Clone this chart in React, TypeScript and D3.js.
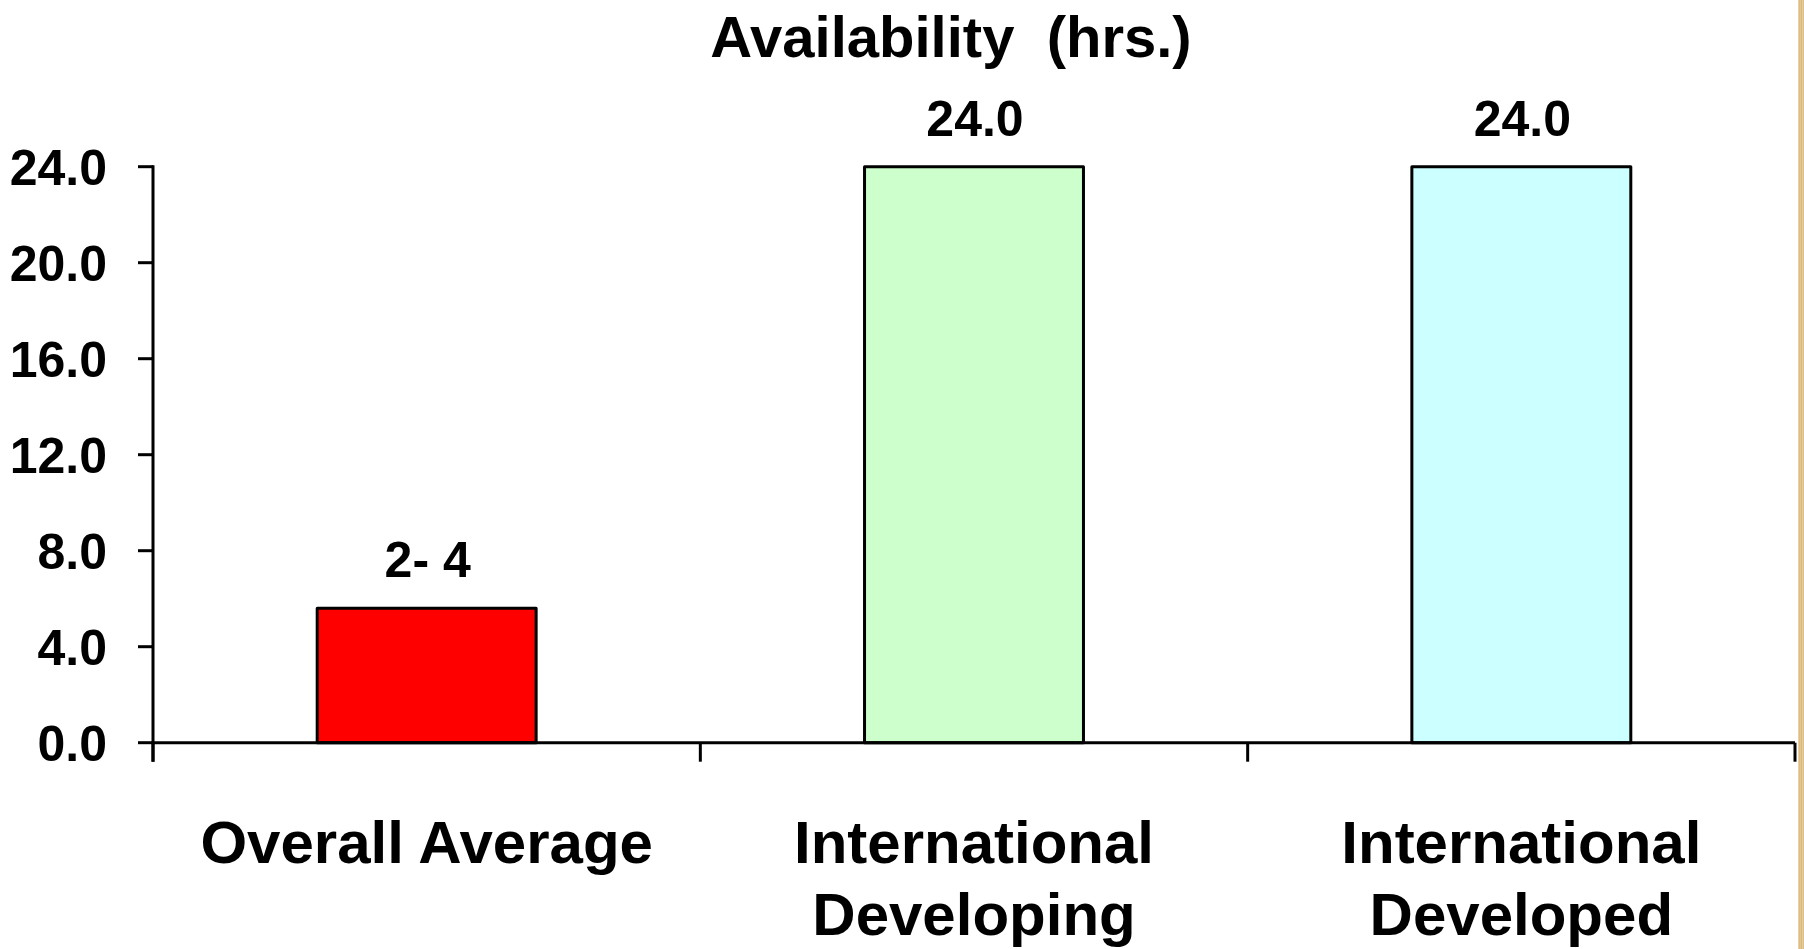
import React from "react";
import * as d3 from "d3";

// Chart data
const categories: string[][] = [
  ["Overall Average"],
  ["International", "Developing"],
  ["International", "Developed"],
];
const hours: number[] = [5.6, 24, 24];
const valueLabels: (string | null)[] = ["2- 4", null, null];
const barColors: string[] = ["#FF0000", "#CCFFCC", "#CCFFFF"];
const yTicks: number[] = [0, 4, 8, 12, 16, 20, 24];
const title = "Availability\u00a0\u00a0(hrs.)";

const W = 1804;
const H = 949;
const FONT = "'Liberation Sans', Arial, Helvetica, sans-serif";

export default function App() {
  const left = 153;
  const right = 1795;
  const top = 166.7;
  const bottom = 742.7;

  const keys = categories.map((c) => c.join(" "));
  const x = d3.scaleBand<string>().domain(keys).range([left, right]).padding(0);
  const y = d3.scaleLinear().domain([0, 24]).range([bottom, top]);
  const fmt = d3.format(".1f");
  const barW = x.bandwidth() * 0.4;
  const boundaries = [left, ...keys.map((k) => (x(k) as number) + x.bandwidth())];

  // textured edge strip on the right
  const stripX = 1798;
  const stripShades = ["#EBD3A2", "#D9BD86", "#E3C892", "#D4B67E", "#E6CD98", "#DCC08A"];

  return (
    <svg
      width={W}
      height={H}
      style={{ position: "fixed", left: 0, top: 0, display: "block", background: "#fff" }}
      fontFamily={FONT}
      fontWeight="bold"
    >
      <rect x={0} y={0} width={W} height={H} fill="#ffffff" />

      {/* title */}
      <text x={951} y={56.7} textAnchor="middle" fontSize={58} fill="#000">
        {title}
      </text>

      {/* bars */}
      {keys.map((k, i) => {
        const cx = (x(k) as number) + x.bandwidth() / 2;
        const y0 = y(hours[i]);
        return (
          <g key={k}>
            <rect
              x={cx - barW / 2}
              y={y0}
              width={barW}
              height={y(0) - y0}
              fill={barColors[i]}
              stroke="#000"
              strokeWidth={3}
              strokeLinejoin="round"
            />
            <text x={cx + 1} y={y0 - 31} textAnchor="middle" fontSize={50} fill="#000">
              {valueLabels[i] ?? fmt(hours[i])}
            </text>
          </g>
        );
      })}

      {/* y axis */}
      <line x1={left} x2={left} y1={top - 1.5} y2={bottom + 19} stroke="#000" strokeWidth={3} />
      {yTicks.map((t) => (
        <g key={t}>
          <line x1={left - 15} x2={left} y1={y(t)} y2={y(t)} stroke="#000" strokeWidth={3} />
          <text
            x={107}
            y={y(t)}
            dy="0.36em"
            textAnchor="end"
            fontSize={50}
            fill="#000"
          >
            {fmt(t)}
          </text>
        </g>
      ))}

      {/* x axis */}
      <line x1={left} x2={right} y1={bottom} y2={bottom} stroke="#000" strokeWidth={3} />
      {boundaries.map((bx, i) => (
        <line key={i} x1={bx} x2={bx} y1={bottom} y2={bottom + 19} stroke="#000" strokeWidth={3} />
      ))}
      {keys.map((k, i) => {
        const cx = (x(k) as number) + x.bandwidth() / 2;
        return (
          <text key={k} x={cx} y={862.7} textAnchor="middle" fontSize={60} fill="#000">
            {categories[i].map((line, j) => (
              <tspan key={j} x={cx} dy={j === 0 ? 0 : 72.3}>
                {line}
              </tspan>
            ))}
          </text>
        );
      })}

      {/* decorative edge */}
      <rect x={stripX} y={0} width={W - stripX} height={H} fill="#DFC48E" />
      {stripShades.map((c, i) => (
        <rect key={i} x={stripX + i} y={0} width={1} height={H} fill={c} opacity={0.8} />
      ))}
    </svg>
  );
}
